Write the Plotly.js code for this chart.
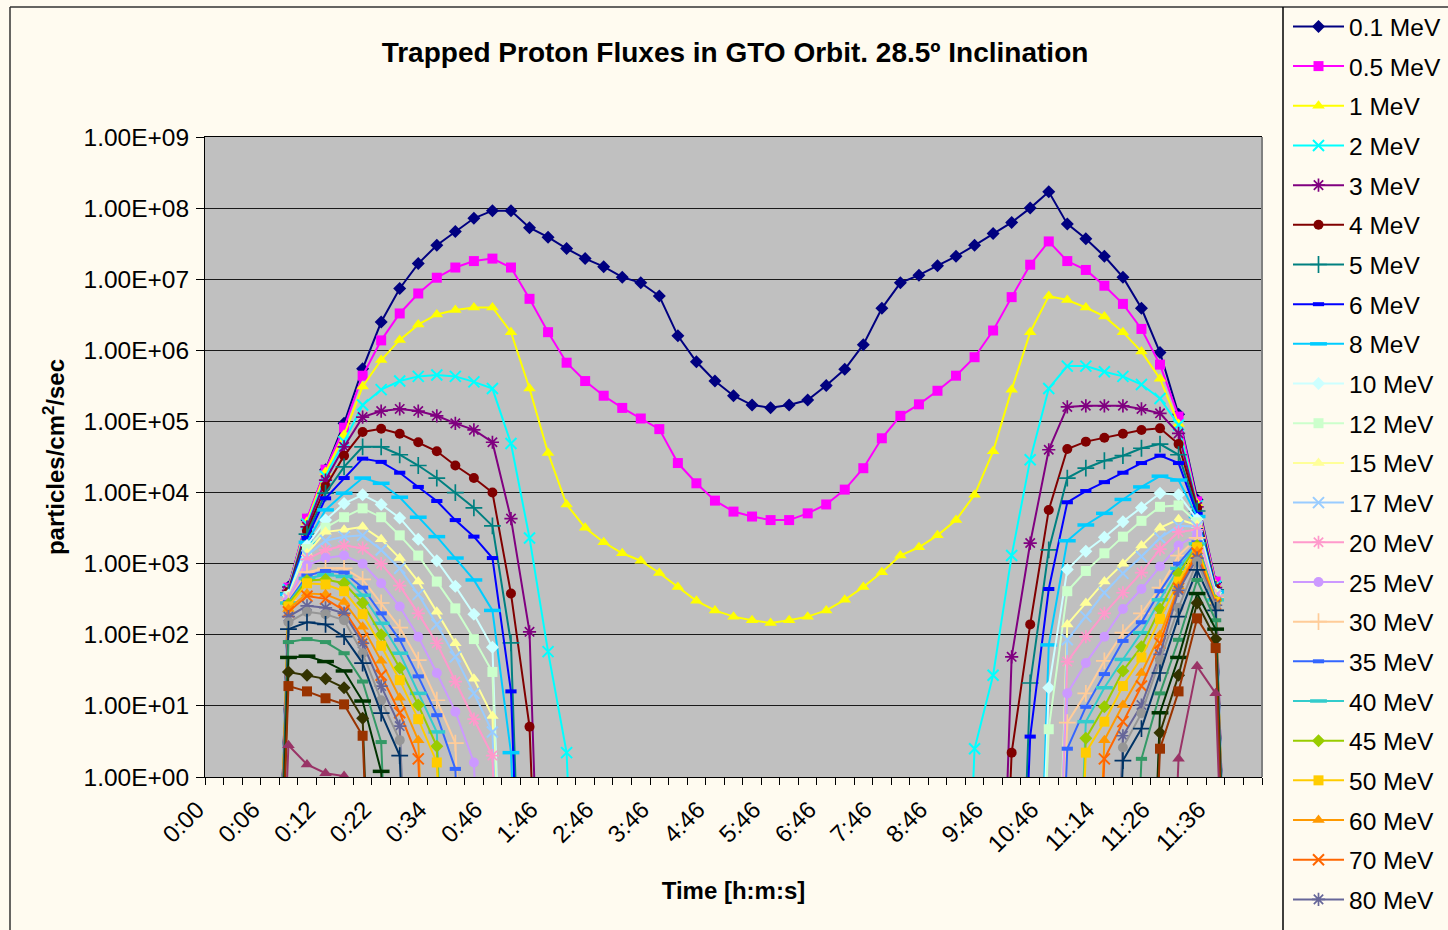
<!DOCTYPE html>
<html>
<head>
<meta charset="utf-8">
<script src="https://cdn.plot.ly/plotly-3.0.1.min.js"></script>
<style>
html,body{margin:0;padding:0;background:#FFFBF0;}
#chart{width:1448px;height:930px;}
</style>
</head>
<body>
<div id="chart"></div>
<script>
// ---------------- DATA ----------------
const categories = ['0:00','0:02','0:04','0:06','0:08','0:10','0:12','0:14','0:18','0:22',
  '0:26','0:30','0:34','0:38','0:42','0:46','1:06','1:26','1:46','2:06',
  '2:26','2:46','3:06','3:26','3:46','4:06','4:26','4:46','5:06','5:26',
  '5:46','6:06','6:26','6:46','7:06','7:26','7:46','8:06','8:26','8:46',
  '9:06','9:26','9:46','10:06','10:26','10:46','10:56','11:06','11:14','11:18',
  '11:22','11:26','11:30','11:34','11:36','11:38','11:40'];

const seriesNames = ['0.1 MeV','0.5 MeV','1 MeV','2 MeV','3 MeV','4 MeV','5 MeV','6 MeV','8 MeV','10 MeV',
  '12 MeV','15 MeV','17 MeV','20 MeV','25 MeV','30 MeV','35 MeV','40 MeV','45 MeV','50 MeV',
  '60 MeV','70 MeV','80 MeV','90 MeV','100 MeV','150 MeV','200 MeV','250 MeV','300 MeV','400 MeV'];

const seriesColors = ['#000080','#FF00FF','#FFFF00','#00FFFF','#800080','#800000','#008080','#0000FF','#00CCFF','#CCFFFF',
  '#CCFFCC','#FFFF99','#99CCFF','#FF99CC','#CC99FF','#FFCC99','#3366FF','#33CCCC','#99CC00','#FFCC00',
  '#FF9900','#FF6600','#666699','#969696','#003366','#339966','#003300','#333300','#993300','#993366'];

const yTickValues = [1,1e1,1e2,1e3,1e4,1e5,1e6,1e7,1e8,1e9];
const yTickLabels = ['1.00E+00','1.00E+01','1.00E+02','1.00E+03','1.00E+04','1.00E+05','1.00E+06','1.00E+07','1.00E+08','1.00E+09'];

// fluxes, one value per category (0 = no flux)
const flux_0_1 = [0,0,0,0, 470,4100,21000,94000,5.5e5,2.5e6,7.4e6,1.66e7,3.0e7,4.7e7,7.2e7,9.2e7,9.2e7,5.3e7,3.9e7,2.7e7,
  1.95e7,1.5e7,1.07e7,8.9e6,5.8e6,1.6e6,6.9e5,3.7e5,2.3e5,1.7e5,1.56e5,1.7e5,2.0e5,3.2e5,5.4e5,1.2e6,3.9e6,8.9e6,1.14e7,1.55e7,
  2.1e7,3.0e7,4.4e7,6.3e7,1.0e8,1.7e8,6.0e7,3.7e7,2.1e7,1.07e7,3.9e6,9.3e5,1.26e5,7900,550,0,0];
const flux_0_5 = [0,0,0,0, 460,4300,21000,82000,4.4e5,1.38e6,3.3e6,6.3e6,1.05e7,1.46e7,1.8e7,1.95e7,1.46e7,5.3e6,1.8e6,
  6.7e5,3.7e5,2.3e5,1.55e5,1.1e5,7.8e4,2.6e4,1.35e4,7700,5400,4600,4100,4100,5100,6800,1.1e4,2.2e4,5.8e4,1.2e5,1.74e5,2.7e5,
  4.4e5,8.0e5,1.9e6,5.6e6,1.6e7,3.4e7,1.8e7,1.35e7,8.1e6,4.5e6,2.0e6,6.3e5,1.17e5,7500,560,0,0];
const flux_1 = [0,0,0,0, 440,3900,19500,65000,3.1e5,7.3e5,1.4e6,2.3e6,3.2e6,3.7e6,4.0e6,4.0e6,1.8e6,2.9e5,3.6e4,
  6800,3200,2000,1400,1100,740,470,300,220,180,160,147,160,180,220,310,470,760,1300,1700,2500,
  4100,9300,3.8e4,2.8e5,1.8e6,5.8e6,5.1e6,4.0e6,3.0e6,1.8e6,9.6e5,4.0e5,9.2e4,7000,500,0,0];
const flux_2 = [0,0,0,0, 430,3600,17000,52000,1.7e5,2.8e5,3.7e5,4.3e5,4.5e5,4.3e5,3.6e5,2.9e5,4.9e4,2300,58,2.2,
  0,0,0,0,0,0,0,0,0,0, 0,0,0,0,0,0,0,0,0,0, 0,
  2.5,27,1300,2.9e4,2.9e5,6.0e5,6.0e5,5.0e5,4.3e5,3.3e5,2.1e5,8.9e4,6500,480,0,0];
const flux_3 = [0,0,0,0, 420,3300,15000,44000,1.15e5,1.4e5,1.5e5,1.4e5,1.2e5,9.4e4,7.6e4,5.1e4,4300,110,
  0,0,0,0,0,0,0,0,0,0, 0,0,0,0,0,0,0,0,0,0, 0,0,0,0,0,
  49,1950,4.0e4,1.6e5,1.66e5,1.66e5,1.66e5,1.5e5,1.3e5,6.8e4,6300,460,0,0];
const flux_4 = [0,0,0,0, 400,2900,12000,33000,71000,79000,67000,51000,38000,24000,16000,10000,380,5.1,
  0,0,0,0,0,0,0,0,0,0, 0,0,0,0,0,0,0,0,0,0, 0,0,0,0,0,
  2.2,140,5700,4.1e4,5.2e4,5.9e4,6.7e4,7.6e4,8.0e4,4.8e4,6000,440,0,0];
const flux_5 = [0,0,0,0, 390,2600,9800,23000,44000,44000,34000,24000,16000,10000,6100,3400,77,
  0,0,0,0,0,0,0,0,0,0, 0,0,0,0,0,0,0,0,0,0, 0,0,0,0,0,0,0,
  21,1560,1.6e4,2.2e4,2.8e4,3.3e4,4.2e4,4.8e4,3.4e4,5500,430,0,0];
const flux_6 = [0,0,0,0, 380,2300,8300,16000,30000,27000,19000,12000,7600,4100,2400,1200,16,
  0,0,0,0,0,0,0,0,0,0, 0,0,0,0,0,0,0,0,0,0, 0,0,0,0,0,0,0,
  3.7,440,7300,10500,14000,19000,26000,33000,26000,5000,420,0,0];
const flux_8 = [0,0,0,0, 370,2000,5700,9800,16000,13500,8600,4500,2400,1200,590,220,2.2,
  0,0,0,0,0,0,0,0,0,0, 0,0,0,0,0,0,0,0,0,0, 0,0,0,0,0,0,0,0,
  72,2100,3500,5100,8000,12000,17000,15000,4600,400,0,0];
const flux_10 = [0,0,0,0, 360,1800,4100,7000,9300,6800,4400,2200,1100,480,195,67,
  0,0,0,0,0,0,0,0,0,0, 0,0,0,0,0,0,0,0,0,0, 0,0,0,0,0,0,0,0,0,
  18,830,1500,2350,3900,6100,9800,9300,4200,390,0,0];
const flux_12 = [0,0,0,0, 350,1600,3200,4500,6000,4500,2500,1300,560,235,87,30,
  0,0,0,0,0,0,0,0,0,0, 0,0,0,0,0,0,0,0,0,0, 0,0,0,0,0,0,0,0,0,
  4.7,410,790,1400,2400,4000,6300,6600,3800,380,0,0];
const flux_15 = [0,0,0,0, 340,1400,2800,3000,3300,2200,1200,560,210,76,24,7.2,
  0,0,0,0,0,0,0,0,0,0, 0,0,0,0,0,0,0,0,0,0, 0,0,0,0,0,0,0,0,0,0,
  140,280,560,1000,1800,3200,4200,3500,370,0,0];
const flux_17 = [0,0,0,0, 330,1300,2100,2400,2500,1560,860,370,140,49,15,4.3,
  0,0,0,0,0,0,0,0,0,0, 0,0,0,0,0,0,0,0,0,0, 0,0,0,0,0,0,0,0,0,0,
  85,180,390,730,1260,2300,3400,3300,360,0,0];
const flux_20 = [0,0,0,0, 320,1150,1560,1800,1650,1000,490,200,76,22,6.5,2.0,
  0,0,0,0,0,0,0,0,0,0, 0,0,0,0,0,0,0,0,0,0, 0,0,0,0,0,0,0,0,0,0,
  42,94,200,390,750,1600,2800,3000,350,0,0];
const flux_25 = [0,0,0,0, 310,950,1200,1300,1000,530,250,94,29,8.3,1.6,
  0,0,0,0,0,0,0,0,0,0, 0,0,0,0,0,0,0,0,0,0, 0,0,0,0,0,0,0,0,0,0, 0,
  15,40,94,230,440,910,1800,2600,340,0,0];
const flux_30 = [0,0,0,0, 300,760,860,860,600,280,126,44,12,3.0,
  0,0,0,0,0,0,0,0,0,0, 0,0,0,0,0,0,0,0,0,0, 0,0,0,0,0,0,0,0,0,0, 0,0,
  5.8,15,43,107,200,460,1300,2300,330,0,0];
const flux_35 = [0,0,0,0, 290,680,790,750,460,200,85,26,7.4,1.3,
  0,0,0,0,0,0,0,0,0,0, 0,0,0,0,0,0,0,0,0,0, 0,0,0,0,0,0,0,0,0,0, 0,0,
  2.5,9.7,28,82,150,410,1000,2000,320,0,0];
const flux_40 = [0,0,0,0, 280,620,700,660,360,145,55,15,4.3,
  0,0,0,0,0,0,0,0,0,0, 0,0,0,0,0,0,0,0,0,0, 0,0,0,0,0,0,0,0,0,0, 0,0,0,0,
  6.0,18,45,107,310,860,1900,310,0,0];
const flux_45 = [0,0,0,0, 270,580,600,530,280,100,34,10.3,2.7,
  0,0,0,0,0,0,0,0,0,0, 0,0,0,0,0,0,0,0,0,0, 0,0,0,0,0,0,0,0,0,0, 0,0,0,0,
  3.5,9.7,31,68,230,730,1800,300,0,0];
const flux_50 = [0,0,0,0, 250,530,510,410,195,70,23,6.5,1.6,
  0,0,0,0,0,0,0,0,0,0, 0,0,0,0,0,0,0,0,0,0, 0,0,0,0,0,0,0,0,0,0, 0,0,0,0,
  2.2,6.0,19,48,167,560,1700,290,0,0];
const flux_60 = [0,0,0,0, 230,380,370,290,130,43,13,3.3,
  0,0,0,0,0,0,0,0,0,0, 0,0,0,0,0,0,0,0,0,0, 0,0,0,0,0,0,0,0,0,0, 0,0,0,0,0,0,
  3.3,10.3,29,100,480,1500,280,0,0];
const flux_70 = [0,0,0,0, 210,350,320,220,89,27,8.0,1.8,
  0,0,0,0,0,0,0,0,0,0, 0,0,0,0,0,0,0,0,0,0, 0,0,0,0,0,0,0,0,0,0, 0,0,0,0,0,0,
  1.8,6.0,19,76,450,1400,270,0,0];
const flux_80 = [0,0,0,0, 180,255,240,200,76,19,5.2,
  0,0,0,0,0,0,0,0,0,0, 0,0,0,0,0,0,0,0,0,0, 0,0,0,0,0,0,0,0,0,0, 0,0,0,0,0,0,0,0,
  3.8,10.3,53,420,1200,260,0,0];
const flux_90 = [0,0,0,0, 150,210,195,160,55,12,3.3,
  0,0,0,0,0,0,0,0,0,0, 0,0,0,0,0,0,0,0,0,0, 0,0,0,0,0,0,0,0,0,0, 0,0,0,0,0,0,0,0,
  2.6,7.9,44,240,1070,250,0,0];
const flux_100 = [0,0,0,0, 120,150,140,94,40,7.9,2.0,
  0,0,0,0,0,0,0,0,0,0, 0,0,0,0,0,0,0,0,0,0, 0,0,0,0,0,0,0,0,0,0, 0,0,0,0,0,0,0,0,
  1.7,4.8,29,180,820,220,0,0];
const flux_150 = [0,0,0,0, 79,87,79,55,22,3.1,
  0,0,0,0,0,0,0,0,0,0, 0,0,0,0,0,0,0,0,0,0, 0,0,0,0,0,0,0,0,0,0, 0,0,0,0,0,0,0,0,0,0,
  1.8,15,85,590,160,0,0];
const flux_200 = [0,0,0,0, 48,50,42,31,11.7,1.2,
  0,0,0,0,0,0,0,0,0,0, 0,0,0,0,0,0,0,0,0,0, 0,0,0,0,0,0,0,0,0,0, 0,0,0,0,0,0,0,0,0,0, 0,
  8.0,48,380,120,0,0];
const flux_250 = [0,0,0,0, 30,27,24,18,6.7,
  0,0,0,0,0,0,0,0,0,0, 0,0,0,0,0,0,0,0,0,0, 0,0,0,0,0,0,0,0,0,0, 0,0,0,0,0,0,0,0,0,0, 0,0,
  4.2,27,280,87,0,0];
const flux_300 = [0,0,0,0, 19,16,12.8,10.5,3.8,
  0,0,0,0,0,0,0,0,0,0, 0,0,0,0,0,0,0,0,0,0, 0,0,0,0,0,0,0,0,0,0, 0,0,0,0,0,0,0,0,0,0, 0,0,
  2.5,16,170,65,0,0];
const flux_400 = [0,0,0,0, 2.8,1.5,1.13,1.03,
  0,0,0,0,0,0,0,0,0,0, 0,0,0,0,0,0,0,0,0,0, 0,0,0,0,0,0,0,0,0,0, 0,0,0,0,0,0,0,0,0,0, 0,0,0,0,
  1.8,36,15,0,0];

const fluxSeries = [flux_0_1,flux_0_5,flux_1,flux_2,flux_3,flux_4,flux_5,flux_6,flux_8,flux_10,
  flux_12,flux_15,flux_17,flux_20,flux_25,flux_30,flux_35,flux_40,flux_45,flux_50,
  flux_60,flux_70,flux_80,flux_90,flux_100,flux_150,flux_200,flux_250,flux_300,flux_400];

fluxSeries.forEach((s, i) => {
  if (s.length !== categories.length) throw new Error('Series ' + seriesNames[i] + ' has ' + s.length + ' values');
});

// ---------------- STYLE ----------------
const FONT = 'Liberation Sans, Arial, sans-serif';
const BG = '#FFFBF0';
const LOG_FLOOR = 1e-6; // zero flux shown as a plunge below the axis, like the original
const markerCycle = [
  {symbol:'diamond', size:10},
  {symbol:'square', size:10},
  {symbol:'triangle-up', size:11},
  {symbol:'x-thin-open', size:11, lw:2},
  {symbol:'asterisk-open', size:11, lw:1.7},
  {symbol:'circle', size:10},
  {symbol:'cross-thin-open', size:12, lw:1.7},
  {symbol:'line-ew-open', size:8, lw:4},
  {symbol:'line-ew-open', size:12, lw:3.5}
];

const traces = fluxSeries.map((vals, i) => {
  const m = markerCycle[i % markerCycle.length];
  const col = seriesColors[i];
  const open = m.symbol.endsWith('-open');
  return {
    type: 'scatter', mode: 'lines+markers',
    name: seriesNames[i], legendgroup: 'g' + i,
    x: categories,
    y: vals.map(v => v > 0 ? v : LOG_FLOOR),
    line: {color: col, width: 2},
    marker: open
      ? {symbol: m.symbol, size: m.size, color: col, line: {color: col, width: m.lw}}
      : {symbol: m.symbol, size: m.size, color: col, line: {width: 0}},
    hoverinfo: 'skip'
  };
});

const PL = 205, PR = 1262, PT = 137, PB = 777;
const W = 1448, H = 930;
const px2x = p => (p - PL) / (PR - PL);
const py2y = p => (PB - p) / (PB - PT);

const layout = {
  width: W, height: H,
  paper_bgcolor: BG, plot_bgcolor: '#C0C0C0',
  margin: {l: PL, r: W - PR, t: PT, b: H - PB, autoexpand: false},
  font: {family: FONT, color: '#000'},
  showlegend: true,
  title: {
    text: '<b>Trapped Proton Fluxes in GTO Orbit. 28.5º Inclination</b>',
    font: {size: 28, family: FONT, color: '#000'},
    xref: 'paper', x: px2x(735), xanchor: 'center',
    yref: 'container', y: 1 - 52 / H, yanchor: 'middle'
  },
  xaxis: {
    type: 'category', categoryorder: 'array', categoryarray: categories,
    range: [-0.5, categories.length - 0.5],
    tickmode: 'array', tickvals: categories,
    ticktext: categories.map((c, i) => i % 3 === 0 ? c : ''),
    tickson: 'boundaries', ticks: 'outside', ticklen: 7, tickwidth: 1, tickcolor: '#000',
    tickangle: -45, tickfont: {size: 24, family: FONT, color: '#000'},
    ticklabelshift: -17, ticklabelstandoff: 8,
    showline: true, linecolor: '#000', linewidth: 1, mirror: true,
    showgrid: false, zeroline: false,
    title: {text: '<b>Time [h:m:s]</b>', font: {size: 24, family: FONT, color: '#000'}, standoff: 25}
  },
  yaxis: {
    type: 'log', range: [0, 9],
    tickmode: 'array', tickvals: yTickValues, ticktext: yTickLabels,
    ticks: 'outside', ticklen: 8, tickwidth: 1, tickcolor: '#000',
    tickfont: {size: 24.5, family: FONT, color: '#000'},
    ticklabelstandoff: 2,
    showline: true, linecolor: '#000', linewidth: 1,
    showgrid: true, gridcolor: '#1a1a1a', gridwidth: 1, zeroline: false,
    title: {text: '<b>particles/cm<sup>2</sup>/sec</b>', font: {size: 24, family: FONT, color: '#000'}, standoff: 12}
  },
  legend: {
    x: px2x(1288), xanchor: 'left', y: py2y(4), yanchor: 'top',
    bgcolor: 'rgba(0,0,0,0)', borderwidth: 0,
    font: {size: 24.5, family: FONT, color: '#000'},
    itemwidth: 51, tracegroupgap: 4.83, maxheight: 3000,
    traceorder: 'grouped'
  },
  shapes: [
    // plot area right edge
    {type: 'line', xref: 'paper', yref: 'paper', x0: 1, x1: 1, y0: 0, y1: 1,
     line: {color: '#808080', width: 2}},
    // chart area border (left and top edges)
    {type: 'line', xref: 'paper', yref: 'paper', x0: px2x(10), x1: px2x(10), y0: py2y(7), y1: py2y(1000),
     line: {color: '#333', width: 1.5}},
    {type: 'line', xref: 'paper', yref: 'paper', x0: px2x(10), x1: px2x(1500), y0: py2y(7), y1: py2y(7),
     line: {color: '#333', width: 1.5}},
    // legend box left edge
    {type: 'line', xref: 'paper', yref: 'paper', x0: px2x(1283), x1: px2x(1283), y0: py2y(7), y1: py2y(1000),
     line: {color: '#000', width: 1.5}}
  ]
};

Plotly.newPlot('chart', traces, layout, {staticPlot: true, displayModeBar: false});
</script>
</body>
</html>
